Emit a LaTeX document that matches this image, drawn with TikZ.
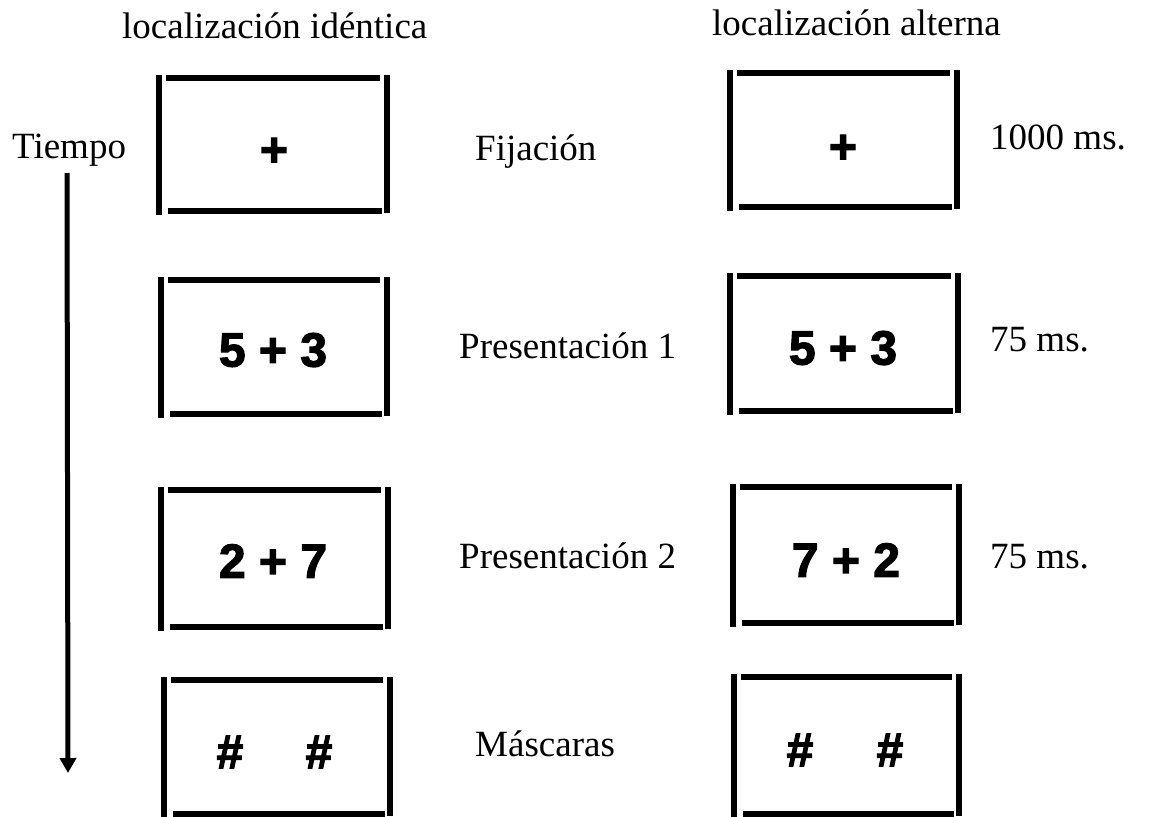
\documentclass[tikz,border=0pt]{standalone}
\usepackage{fontspec}
\setmainfont{Liberation Serif}
\newfontfamily\stimfont[BoldFeatures={FakeBold=2.5}]{Liberation Sans}
\usetikzlibrary{arrows.meta,calc}
\newcommand\stimbox[5]{%
  \node[frame, minimum width={(#4-#2)*1pt}, minimum height={(#5-#3)*1pt}] (#1) at ({(#2+#4)/2},{(#3+#5)/2}) {};
  \draw[side] ([yshift=3pt]#1.north west) -- ([yshift=-4pt]#1.south west);
  \draw[side] ([xshift=7pt]#1.north west) -- ([xshift=-7pt]#1.north east);
  \draw[side] ([yshift=3pt]#1.north east) -- ([yshift=-2pt]#1.south east);
  \draw[side] ([xshift=9pt]#1.south west) -- ([xshift=-5pt]#1.south east);
}
\begin{document}
\begin{tikzpicture}[x=1pt,y=-1pt,
  lbl/.style={anchor=base west, inner sep=0pt, font=\fontsize{37}{40}\selectfont},
  stim/.style={inner sep=0pt, font=\stimfont\bfseries\fontsize{48}{50}\selectfont},
  side/.style={line width=6pt},
  frame/.style={draw=none, inner sep=0pt, rectangle},
  timearrow/.style={line width=5pt, -{Triangle[width=16pt,length=15pt]}}]
\useasboundingbox[fill=white] (0,0) rectangle (1153,816);

% headers
\node[lbl] (hid) at (122,38) {localización idéntica};
\node[lbl] (halt) at (712,36) {localización alterna};

% time axis
\node[lbl] (tiempo) at (12,158) {Tiempo};
\coordinate (tstart) at (67,173);
\coordinate (tend) at (68,773);
\draw[timearrow] (tstart) -- (tend);

% left column
\stimbox{lA}{159}{78}{387}{211}
\stimbox{lB}{161}{280}{387}{414}
\stimbox{lC}{161}{490}{388}{627}
\stimbox{lD}{164}{680}{390}{814}
% right column
\stimbox{rA}{730}{73}{957}{207}
\stimbox{rB}{730}{276}{958}{411}
\stimbox{rC}{733}{487}{959}{623}
\stimbox{rD}{734}{677}{959}{814}

% stimuli
\node[stim] (lAt) at (274,152) {+};
\node[stim] (lBt) at (273,350) {5 + 3};
\node[stim] (lCt) at (273,561) {2 + 7};
\node[stim] (lDa) at (230,752) {\#};
\node[stim] (lDb) at (319,752) {\#};
\node[stim] (rAt) at (843,149) {+};
\node[stim] (rBt) at (843,348) {5 + 3};
\node[stim] (rCt) at (846,560) {7 + 2};
\node[stim] (rDa) at (800,750) {\#};
\node[stim] (rDb) at (890,750) {\#};

% phase labels
\node[lbl] (fij) at (475,160) {Fijación};
\node[lbl] (pre1) at (459,358) {Presentación 1};
\node[lbl] (pre2) at (459,568) {Presentación 2};
\node[lbl] (mas) at (475,756) {Máscaras};

% durations
\node[lbl] (d1) at (990,149) {1000 ms.};
\node[lbl] (d2) at (990,351) {75 ms.};
\node[lbl] (d3) at (990,568) {75 ms.};
\end{tikzpicture}
\end{document}
